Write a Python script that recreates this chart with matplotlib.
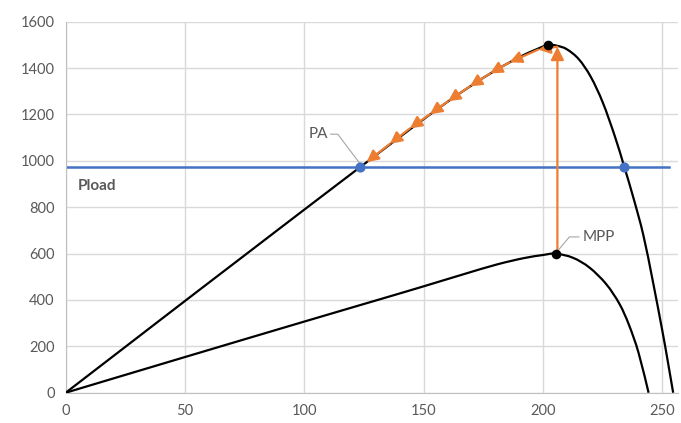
import matplotlib.pyplot as plt
from matplotlib.path import Path
from matplotlib.patches import PathPatch

plt.rcParams['font.family'] = ['Lato', 'DejaVu Sans']

# PV curve at full irradiance (voltage, power)
v_high = [0, 25, 50, 75, 100, 124, 140, 150, 160, 170, 180, 190, 197, 202,
          206, 210, 215, 220, 225, 230, 234, 238, 242, 246, 250, 252, 254.5]
p_high = [0, 198, 396, 593, 790, 978, 1103, 1180, 1255, 1325, 1390, 1447, 1480, 1500,
          1496, 1481, 1438, 1362, 1252, 1108, 975, 835, 680, 480, 265, 150, 0]

# PV curve at reduced irradiance
v_low = [0, 50, 100, 132, 150, 167, 180.6, 191.7, 200, 205.3, 212.5,
         219.4, 226.4, 232, 236, 240, 244.2]
p_low = [0, 154, 307, 404, 459, 512, 553, 580, 594, 600, 582,
         540, 469, 383, 292, 172, 0]

p_load = 975
load_pts_v = [123.5, 233.8]

mpp_high = (202, 1500)
mpp_low = (205.3, 600)

# operating point moving from MPP back down to PA
step_v = [206, 198, 186, 177.8, 169.3, 160.2, 152.6, 144.2, 135.8, 126]
step_p = [1492, 1480, 1425, 1377, 1321, 1257, 1201, 1140, 1073, 994]

orange = '#ED7D31'
blue = '#4472C4'
grey_txt = '#595959'


def smooth_line(ax, xs, ys, **kw):
    # smoothed line like Excel: Catmull-Rom segments as cubic Beziers
    pts = list(zip(xs, ys))
    verts = [pts[0]]
    codes = [Path.MOVETO]
    n = len(pts)
    for i in range(n - 1):
        p0 = pts[max(i - 1, 0)]
        p1 = pts[i]
        p2 = pts[i + 1]
        p3 = pts[min(i + 2, n - 1)]
        c1 = (p1[0] + (p2[0] - p0[0]) / 6, p1[1] + (p2[1] - p0[1]) / 6)
        c2 = (p2[0] - (p3[0] - p1[0]) / 6, p2[1] - (p3[1] - p1[1]) / 6)
        verts += [c1, c2, p2]
        codes += [Path.CURVE4] * 3
    ax.add_patch(PathPatch(Path(verts, codes), fill=False, **kw))


fig = plt.figure(figsize=(6.81, 4.23), dpi=100)
ax = fig.add_axes([0.0965, 0.0716, 0.899, 0.877])

smooth_line(ax, v_high, p_high, edgecolor='black', lw=1.6, zorder=3)
smooth_line(ax, v_low, p_low, edgecolor='black', lw=1.6, zorder=3)
ax.axhline(p_load, xmin=0, xmax=0.985, color=blue, lw=1.8, zorder=2)
ax.scatter(load_pts_v, [p_load] * 2, color=blue, s=40, zorder=5)
ax.scatter([mpp_high[0], mpp_low[0]], [mpp_high[1], mpp_low[1]], color='black', s=35, zorder=5)

head = '-|>,head_length=0.6,head_width=0.3'
# vertical jump from low MPP to high curve
ax.annotate('', xy=(step_v[0], step_p[0]), xytext=(step_v[0], mpp_low[1]),
            arrowprops=dict(arrowstyle=head, color=orange, lw=1.6,
                            mutation_scale=13, shrinkA=0, shrinkB=0), zorder=4)
for i in range(len(step_v) - 1):
    ax.annotate('', xy=(step_v[i + 1], step_p[i + 1]), xytext=(step_v[i], step_p[i]),
                arrowprops=dict(arrowstyle=head, color=orange, lw=1.6,
                                mutation_scale=12, shrinkA=0, shrinkB=0), zorder=4)

# labels with leader lines
ax.plot([111, 114, 123.5], [1115, 1115, 985], color='#a6a6a6', lw=0.8, zorder=4)
ax.text(110, 1115, 'PA', ha='right', va='center', fontsize=11, color=grey_txt)
ax.plot([215, 211, 206], [672, 672, 610], color='#a6a6a6', lw=0.8, zorder=4)
ax.text(216.5, 672, 'MPP', ha='left', va='center', fontsize=11, color=grey_txt)
ax.text(5, 890, 'Pload', ha='left', va='center', fontsize=11, color=grey_txt,
        fontweight='bold')

ax.set_xlim(0, 256.5)
ax.set_ylim(0, 1600)
ax.set_xticks(range(0, 251, 50))
ax.set_yticks(range(0, 1601, 200))
ax.grid(True, color='#d9d9d9', lw=1)
ax.set_axisbelow(True)
for s in ['top', 'right']:
    ax.spines[s].set_visible(False)
for s in ['left', 'bottom']:
    ax.spines[s].set_color('#bfbfbf')
ax.tick_params(length=0, labelsize=10.5, colors=grey_txt, pad=8)

fig.savefig('out.png', dpi=100)
